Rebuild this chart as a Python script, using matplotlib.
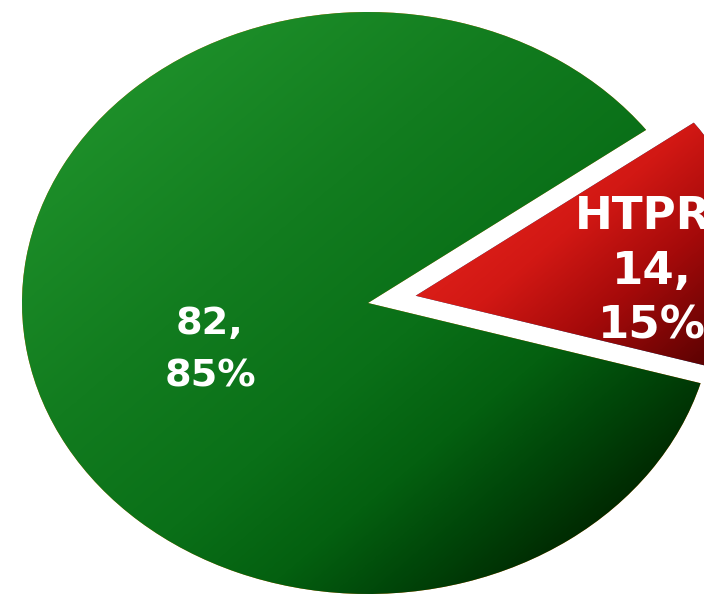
import numpy as np
import matplotlib
matplotlib.use("Agg")
import matplotlib.pyplot as plt
from matplotlib.colors import LinearSegmentedColormap

# Data
categories = ["HTPR", ""]
counts = [14, 82]
explode = [0.14, 0.0]

W, H = 704, 597
fig = plt.figure(figsize=(W / 100, H / 100), dpi=100)
ax = fig.add_axes([0, 0, 1, 1])

# Elliptical (tilted) pie: centre and radii in pixels
cx, cy, rx, ry = 368, 303, 346, 291

wedges, _ = ax.pie(counts, explode=explode, startangle=-16, counterclock=True,
                   radius=1.0, center=(0, 0),
                   wedgeprops=dict(edgecolor="none", linewidth=0))

xlim = (-cx / rx, (W - cx) / rx)
ylim = (-(H - cy) / ry, cy / ry)


def rgb(r, g, b):
    return (r / 255, g / 255, b / 255)


# Shaded fills
green_cmap = LinearSegmentedColormap.from_list("g", [
    (0.00, rgb(30, 144, 42)),
    (0.33, rgb(18, 124, 31)),
    (0.57, rgb(10, 112, 24)),
    (0.73, rgb(4, 96, 16)),
    (0.87, rgb(0, 66, 8)),
    (1.00, rgb(0, 36, 0)),
])
red_cmap = LinearSegmentedColormap.from_list("r", [
    (0.00, rgb(222, 32, 26)),
    (0.25, rgb(210, 24, 20)),
    (0.55, rgb(165, 10, 10)),
    (1.00, rgb(75, 0, 0)),
])

U, V = np.meshgrid(np.linspace(*xlim, 600), np.linspace(*ylim, 520))
t = U - V
fills = [(red_cmap, 0.0, 1.3), (green_cmap, -1.5, 1.5)]
for wedge, (cmap, lo, hi) in zip(wedges, fills):
    tt = np.clip((t - lo) / (hi - lo), 0, 1)
    im = ax.imshow(cmap(tt), extent=[xlim[0], xlim[1], ylim[0], ylim[1]],
                   origin="lower", aspect="auto", interpolation="bilinear",
                   zorder=wedge.get_zorder() + 0.1)
    im.set_clip_path(wedge)

ax.set_aspect("auto")
ax.set_xlim(*xlim)
ax.set_ylim(*ylim)
ax.axis("off")

# Data labels
total = sum(counts)
label_pos = [(652, 271), (210, 350)]
label_size = [32.5, 27.5]
label_spacing = [1.34, 1.6]
for cat, val, (px, py), fs, ls in zip(categories, counts, label_pos, label_size, label_spacing):
    pct = round(val / total * 100)
    parts = ([f"{cat},"] if cat else []) + [f"{val},", f"{pct}%"]
    ax.text((px - cx) / rx, (cy - py) / ry, "\n".join(parts),
            ha="center", va="center", ma="center", color="white",
            fontsize=fs, fontweight="bold", family="DejaVu Sans",
            linespacing=ls, zorder=10)

fig.savefig("out.png", dpi=100, facecolor="white")
